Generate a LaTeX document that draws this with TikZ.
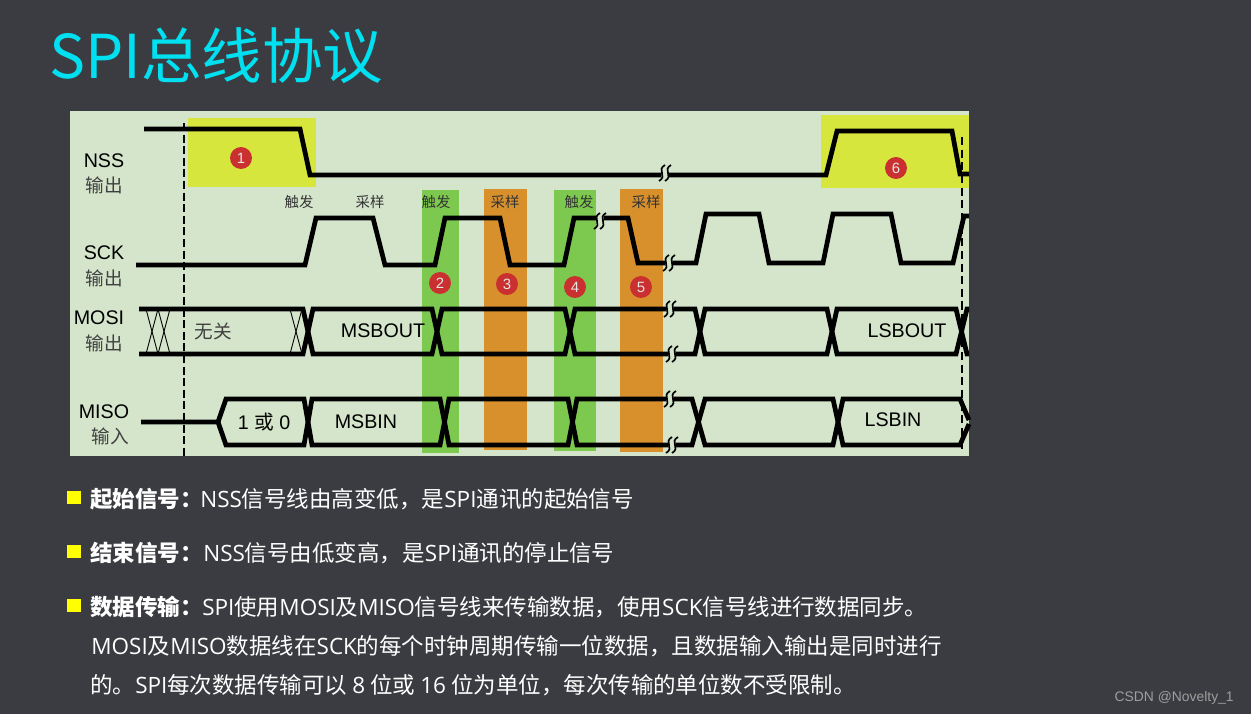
\documentclass[tikz,border=0pt]{standalone}
\usepackage{fontspec}
\setmainfont{Noto Sans CJK SC}
\newfontfamily\latinfont{Liberation Sans}
\newfontfamily\bodylatin{Open Sans}
\newcommand{\lat}[1]{{\bodylatin #1}}
\usetikzlibrary{calc,positioning}
\definecolor{slidebg}{HTML}{3B3C41}
\definecolor{panelbg}{HTML}{D5E5CC}
\definecolor{limebox}{HTML}{D6E63C}
\definecolor{greenbar}{HTML}{7DC84E}
\definecolor{orangebar}{HTML}{D8902C}
\definecolor{redmark}{HTML}{C9302F}
\definecolor{titlecyan}{HTML}{00E0F0}
\definecolor{bullety}{HTML}{FFFF00}
\tikzset{
  wave/.style={line width=2.7pt,black},
  thincross/.style={line width=0.5pt,black},
  siglabel/.style={inner sep=0pt,text=black,font=\latinfont\fontsize{11.2}{12}\selectfont},
  dirlabel/.style={inner sep=0pt,text=black!75,font=\fontsize{10.6}{12}\selectfont},
  edgelabel/.style={inner sep=0pt,text=black!80,font=\fontsize{8.2}{10}\selectfont},
  badge/.style={circle,fill=redmark,inner sep=0pt,minimum size=12.5pt,text=white!90!black,font=\latinfont\fontsize{8.5}{9}\selectfont},
  bodyline/.style={anchor=base west,inner sep=0pt,text=white,font=\fontsize{12.8}{15}\selectfont},
  breakmark/.pic={
    \fill[panelbg] (-3,-8) -- (4,-8) -- (3,8) -- (-4,8) -- cycle;
    \foreach \dx in {-3,3}
      \draw[line width=0.95pt,black] ($(\dx,0)+(3,-8)$) .. controls ($(\dx,0)+(-6,-3)$) and ($(\dx,0)+(6,3)$) .. ($(\dx,0)+(-3,8)$);
  }
}
\begin{document}
\begin{tikzpicture}[x=0.02cm,y=-0.02cm]
\useasboundingbox (0,0) rectangle (1251,714);
\fill[slidebg] (0,0) rectangle (1251,714);
\node[anchor=base west,inner sep=0pt,text=titlecyan,font=\fontsize{34.4}{36}\selectfont] (title) at (49,78) {SPI总线协议};

% timing panel
\fill[panelbg] (70,111) rectangle (969,456);
\fill[limebox] (188,118) rectangle (316,187);
\fill[limebox] (821,115) rectangle (969,188);
\fill[greenbar] (422,190) rectangle (459,453);
\fill[orangebar] (484,189) rectangle (527,450);
\fill[greenbar] (554,190) rectangle (596,451);
\fill[orangebar] (620,189) rectangle (663,452);

\draw[line width=1.7pt,dash pattern=on 4.6pt off 2pt] (184,123) -- (184,456);
\draw[line width=0.9pt,dash pattern=on 4.6pt off 2.6pt] (962,137) -- (962,450);

% signals
\draw[wave] (144,129) -- (300,129) -- (310,175) -- (826,175) -- (837,131) -- (952,131) -- (960,174) -- (969,174);
\draw[wave] (136,265) -- (305,265) -- (316,218) -- (373,218) -- (385,265) -- (435,265) -- (445,218) -- (500,218) -- (510,265) -- (564,265) -- (574,218) -- (628,218) -- (638,263) -- (696,263) -- (706,214) -- (759,214) -- (769,263) -- (823,263) -- (833,214) -- (891,214) -- (901,263) -- (953,263) -- (964,216) -- (969,216);
\draw[wave] (139,309) -- (303,309) -- (313,354) -- (432,354) -- (442,309) -- (565,309) -- (575,354) -- (695,354) -- (705,309) -- (827,309) -- (837,354) -- (956,354) -- (967,309) -- (969,309);
\draw[wave] (139,354) -- (303,354) -- (313,309) -- (432,309) -- (442,354) -- (565,354) -- (575,309) -- (695,309) -- (705,354) -- (827,354) -- (837,309) -- (956,309) -- (967,354) -- (969,354);
\draw[wave] (141,422) -- (218,422) -- (226,399) -- (304,399) -- (312,445) -- (440,445) -- (449,399) -- (568,399) -- (577,445) -- (692,445) -- (705,399) -- (833,399) -- (843,445) -- (960,445) -- (969,424);
\draw[wave] (218,422) -- (226,445) -- (304,445) -- (312,399) -- (440,399) -- (449,445) -- (568,445) -- (577,399) -- (692,399) -- (705,445) -- (833,445) -- (843,399) -- (960,399) -- (969,420);

\foreach \xa/\xb in {146/158,158/170,290/302}
{
    \draw[thincross] (\xa,309) -- (\xb,354);
    \draw[thincross] (\xb,309) -- (\xa,354);
}

\foreach \x/\y in {665/173,600/221,669/263,670/309,672/354,670/399,672/445}
    \pic at (\x,\y) {breakmark};

% labels
\foreach \i/\x/\y/\label in {nss/104/161/NSS,sck/104/253/SCK,mosi/99/318/MOSI,miso/104/412/MISO}
    \node[siglabel] (\i) at (\x,\y) {\label};
\foreach \i/\x/\y/\label in {nssdir/104/185/输出,sckdir/104/278/输出,mosidir/104/343/输出,misodir/110/436/输入}
    \node[dirlabel] (\i) at (\x,\y) {\label};
\foreach \i/\x/\label in {ea/299/触发,eb/370/采样,ec/436/触发,ed/505/采样,ee/579/触发,ef/646/采样}
    \node[edgelabel] (\i) at (\x,202) {\label};
\foreach \i/\x/\y/\label in {bitout/383/331/MSBOUT,bitin/366/422/MSBIN,lastout/907/331/LSBOUT,lastin/893/420/LSBIN}
    \node[siglabel] (\i) at (\x,\y) {\label};
\node[dirlabel] (nocare) at (213,331) {无关};
\node[siglabel] (oneorzero) at (264,422) {1 {\fontspec{Noto Sans CJK SC}或} 0};

\foreach \i/\x/\y in {1/241/158,2/440/283,3/507/284,4/575/287,5/641/287,6/896/168}
    \node[badge] (mark\i) at (\x,\y) {\i};

% text below the panel
\foreach \y in {491,545,599}
    \fill[bullety] (67,\y) rectangle (81,\y+13);
\node[bodyline] (starthead) at (90,507) {\textbf{起始信号：}};
\node[bodyline] (starttext) at (200,507) {\lat{NSS}信号线由高变低，是\lat{SPI}通讯的起始信号};
\node[bodyline] (stophead) at (90,561) {\textbf{结束信号：}};
\node[bodyline] (stoptext) at (203,561) {\lat{NSS}信号由低变高，是\lat{SPI}通讯的停止信号};
\node[bodyline] (datahead) at (90,615) {\textbf{数据传输：}};
\node[bodyline] (datatext) at (202,615) {\lat{SPI}使用\lat{MOSI}及\lat{MISO}信号线来传输数据，使用\lat{SCK}信号线进行数据同步。};
\node[bodyline] (datatextb) at (91,654) {\lat{MOSI}及\lat{MISO}数据线在\lat{SCK}的每个时钟周期传输一位数据，且数据输入输出是同时进行};
\node[bodyline] (datatextc) at (90,693) {的。\lat{SPI}每次数据传输可以 \lat{8} 位或 \lat{16} 位为单位，每次传输的单位数不受限制。};
\node[anchor=base east,inner sep=0pt,text=white!62!black,font=\latinfont\fontsize{7.9}{9}\selectfont] (csdnmark) at (1234,701) {CSDN @Novelty\_1};
\end{tikzpicture}
\end{document}
